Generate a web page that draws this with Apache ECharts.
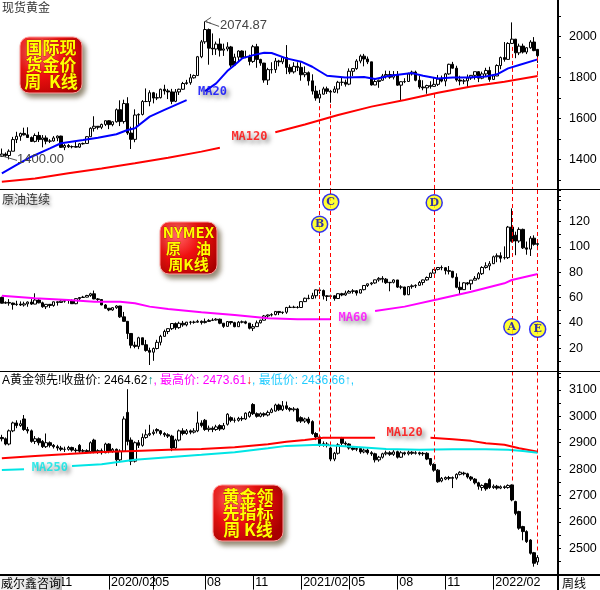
<!DOCTYPE html>
<html><head><meta charset="utf-8">
<script src="https://cdn.jsdelivr.net/npm/echarts@6/dist/echarts.min.js"></script>
<style>html,body{margin:0;padding:0;background:#fff}#c{width:600px;height:590px}</style>
</head><body><div id="c"></div><script>
// ---------------- DATA ----------------
const startWeek = '2019-07-15';
const totalSlots = 151;           // 146 weekly candles + empty slots at the right
const tickIdx  = [15, 29, 41, 55, 68, 81, 94, 107, 120, 133];
const tickText = ['11','2020/02','05','08','11','2021/02','05','08','11','2022/02'];

// 现货黄金 weekly [open, close, low, high]
const goldK = [
[1415,1426,1412,1453],[1426,1419,1412,1434],[1419,1440,1400,1449],[1440,1497,1440,1510],[1497,1513,1480,1535],
[1513,1527,1491,1531],[1527,1520,1517,1555],[1520,1507,1505,1557],[1507,1488,1485,1512],[1488,1517,1483,1527],
[1517,1497,1485,1535],[1497,1505,1459,1519],[1505,1489,1474,1517],[1489,1490,1480,1499],[1490,1505,1487,1514],
[1505,1514,1489,1517],[1514,1459,1456,1516],[1459,1468,1445,1475],[1468,1462,1456,1475],[1462,1463,1454,1468],
[1463,1460,1458,1485],[1460,1476,1456,1480],[1476,1478,1472,1482],[1478,1511,1477,1514],[1511,1552,1511,1557],
[1552,1562,1536,1611],[1562,1557,1546,1563],[1557,1571,1548,1575],[1571,1589,1563,1590],[1589,1570,1548,1592],
[1570,1584,1562,1586],[1584,1643,1580,1649],[1643,1585,1563,1689],[1585,1673,1575,1692],[1673,1529,1520,1704],
[1529,1498,1451,1560],[1498,1617,1484,1645],[1617,1620,1567,1625],[1620,1683,1615,1690],[1683,1683,1680,1747],
[1683,1726,1660,1738],[1726,1700,1674,1730],[1700,1702,1690,1723],[1702,1743,1698,1746],[1743,1735,1717,1765],
[1735,1730,1695,1745],[1730,1684,1670,1745],[1684,1730,1680,1744],[1730,1743,1715,1746],[1743,1771,1740,1779],
[1771,1775,1765,1789],[1775,1799,1765,1818],[1799,1810,1795,1815],[1810,1902,1810,1906],[1902,1975,1895,1984],
[1975,2035,1965,2074.87],[2035,1944,1863,2040],[1944,1940,1910,2016],[1940,1964,1911,1976],[1964,1934,1903,1992],
[1934,1940,1906,1966],[1940,1950,1929,1973],[1950,1861,1849,1955],[1861,1900,1881,1917],[1900,1930,1877,1933],
[1930,1899,1890,1933],[1899,1902,1895,1932],[1902,1879,1860,1912],[1879,1951,1872,1960],[1951,1889,1848,1965],
[1889,1871,1858,1892],[1871,1788,1775,1872],[1788,1839,1764,1848],[1839,1839,1820,1875],[1839,1881,1823,1896],
[1881,1877,1855,1887],[1877,1898,1866,1900],[1898,1850,1817,1959],[1850,1828,1817,1865],[1828,1855,1820,1875],
[1855,1850,1832,1875],[1850,1814,1785,1875],[1814,1824,1802,1855],[1824,1784,1761,1830],[1784,1734,1717,1816],
[1734,1700,1687,1760],[1700,1719,1676,1740],[1719,1745,1717,1755],[1745,1733,1720,1756],[1733,1729,1677,1740],
[1729,1744,1725,1758],[1744,1777,1723,1784],[1777,1777,1760,1798],[1777,1768,1756,1790],[1768,1831,1763,1845],
[1831,1844,1808,1846],[1844,1881,1838,1890],[1881,1905,1870,1913],[1905,1891,1855,1916],[1891,1877,1866,1903],
[1877,1764,1761,1877],[1764,1781,1763,1795],[1781,1787,1750,1790],[1787,1808,1785,1818],[1808,1815,1795,1834],
[1815,1802,1794,1833],[1802,1814,1791,1832],[1814,1763,1760,1832],[1763,1780,1687,1782],[1780,1781,1773,1797],
[1781,1818,1780,1824],[1818,1827,1810,1834],[1827,1787,1782,1834],[1787,1754,1745,1809],[1754,1750,1738,1787],
[1750,1761,1721,1765],[1761,1757,1746,1782],[1757,1767,1757,1800],[1767,1793,1759,1813],[1793,1783,1777,1810],
[1783,1818,1758,1823],[1818,1865,1814,1868],[1865,1846,1845,1877],[1846,1788,1780,1858],[1788,1783,1762,1809],
[1783,1784,1768,1793],[1784,1798,1753,1815],[1798,1811,1789,1812],[1811,1829,1790,1829],[1829,1797,1778,1831],
[1797,1818,1792,1829],[1818,1835,1806,1848],[1835,1791,1780,1853],[1791,1808,1788,1816],[1808,1859,1807,1865],
[1859,1898,1841,1903],[1898,1889,1878,1974],[1889,1967,1889,1973],[1967,1988,1966,2070],[1988,1921,1895,1989],
[1921,1954,1910,1966],[1954,1925,1918,1966],[1925,1946,1915,1949],[1946,1974,1941,1983],[1974,1932,1929,1998],
[1938,1907,1872,1940]
];
// 原油连续 weekly [open, close, low, high]
const crudeK = [
[60.2,55.6,55.4,60.7],[55.6,56.2,55.1,57.0],[56.2,55.7,53.6,58.8],[55.7,54.5,50.5,56.0],[54.5,54.9,53.5,57.5],
[54.9,54.2,53.4,57.0],[54.2,55.1,52.9,56.8],[55.1,56.5,52.8,57.0],[56.5,54.9,54.2,58.8],[54.9,58.1,54.8,63.4],
[58.1,55.9,55.5,58.8],[55.9,52.8,52.0,56.8],[52.8,54.7,51.0,54.9],[54.7,53.8,51.9,54.9],[53.8,56.7,52.8,56.9],
[56.7,56.2,53.7,56.9],[56.2,57.2,55.9,57.9],[57.2,57.7,56.0,58.0],[57.8,57.8,55.2,58.3],[57.8,55.2,55.0,58.6],
[55.2,59.2,54.8,59.4],[59.2,60.1,58.1,60.4],[60.1,60.4,59.8,61.4],[60.4,61.7,60.2,62.2],[61.7,63.05,60.6,63.8],
[63.05,59.0,58.7,65.6],[59.0,58.5,57.4,59.7],[58.5,54.2,54.0,58.8],[54.2,51.6,51.3,54.9],[51.6,50.3,49.3,51.8],
[50.3,52.05,49.6,52.5],[52.05,53.4,51.1,54.0],[53.4,44.8,44.0,53.5],[44.8,41.3,41.0,48.7],[41.3,31.7,27.3,41.5],
[31.7,22.4,20.0,31.9],[22.4,21.5,20.0,25.2],[21.5,28.3,19.3,29.1],[28.3,22.8,22.6,28.4],[22.8,18.3,17.3,26.6],
[18.3,16.9,6.8,20.5],[16.9,19.8,10.1,20.6],[19.8,24.7,19.1,26.7],[24.7,29.4,22.3,30.6],[29.4,33.25,29.3,34.7],
[33.25,35.5,31.2,35.7],[35.5,39.55,34.4,39.7],[39.55,36.3,34.6,40.4],[36.3,39.75,35.4,41.0],[39.75,38.5,37.0,41.6],
[38.5,40.65,37.3,40.8],[40.65,40.55,38.7,41.6],[40.55,40.6,39.4,41.8],[40.6,41.3,40.1,42.5],[41.3,40.3,38.7,42.0],
[40.3,41.2,39.6,43.5],[41.2,42.0,41.0,43.0],[42.0,42.3,41.5,43.7],[42.3,42.97,41.9,43.8],[42.97,39.8,39.0,43.4],
[39.8,37.3,36.1,39.9],[37.3,41.1,36.9,41.5],[41.1,40.25,38.7,41.1],[40.25,37.05,36.6,40.9],[37.05,40.6,37.0,41.5],
[40.6,40.9,39.7,41.9],[40.9,39.85,39.0,41.8],[39.85,35.8,34.9,39.9],[35.8,37.1,33.6,39.2],[37.1,40.1,36.9,41.9],
[40.1,42.15,39.6,42.5],[42.15,45.5,42.0,46.3],[45.5,46.3,43.9,46.7],[46.3,46.6,45.1,47.7],[46.6,49.1,46.0,49.4],
[49.1,48.2,46.2,49.3],[48.2,48.5,47.0,48.9],[48.5,52.2,47.2,52.7],[52.2,52.4,51.8,53.9],[52.4,52.3,51.7,53.6],
[52.3,52.2,51.4,53.4],[52.2,56.85,52.2,57.0],[56.85,59.5,56.5,60.0],[59.5,59.25,58.7,62.3],[59.25,61.5,59.2,63.8],
[61.5,66.1,59.3,66.4],[66.1,65.6,63.1,67.98],[65.6,61.4,58.5,66.4],[61.4,60.97,57.3,61.8],[60.97,61.45,58.9,62.3],
[61.45,59.3,57.6,61.9],[59.3,63.1,58.9,63.5],[63.1,62.1,61.1,63.8],[62.1,63.6,61.4,65.5],[63.6,64.9,63.5,66.0],
[64.9,65.4,63.1,66.7],[65.4,63.6,61.6,66.0],[63.6,66.3,63.3,66.7],[66.3,69.6,65.7,69.8],[69.6,70.9,68.4,71.0],
[70.9,71.6,69.8,72.2],[71.6,74.05,70.9,74.2],[74.05,75.2,72.6,76.2],[75.2,74.6,71.9,76.98],[74.6,71.8,70.8,75.5],
[71.8,72.1,65.0,72.3],[72.1,73.95,71.2,74.5],[73.95,68.3,67.6,73.8],[68.3,68.4,66.6,69.8],[68.4,62.3,61.7,68.5],
[62.3,68.7,62.0,69.0],[68.7,69.3,67.0,70.5],[69.3,69.7,67.6,70.5],[69.7,71.97,69.6,73.1],[71.97,73.98,69.8,74.3],
[73.98,75.9,73.3,76.7],[75.9,79.35,75.6,79.8],[79.35,82.3,79.2,82.5],[82.3,83.8,81.5,84.0],[83.8,83.6,81.6,85.4],
[83.6,81.3,78.3,84.0],[81.3,80.8,78.3,84.97],[80.8,76.1,75.3,81.1],[76.1,68.15,67.4,79.2],[68.15,66.3,62.4,72.6],
[66.3,71.7,66.1,72.2],[71.7,70.9,69.8,72.2],[70.9,73.8,66.1,73.9],[73.8,75.2,73.8,77.0],[75.2,78.9,74.3,80.2],
[78.9,83.8,77.9,84.8],[83.8,85.1,82.9,87.9],[85.1,86.8,81.6,88.8],[86.8,92.3,86.6,93.2],[92.3,93.1,88.0,94.9],
[93.1,91.1,87.8,95.8],[91.6,91.6,90.1,100.5],[91.6,115.7,90.5,116.6],[115.7,104.5,103.5,130.5],[109.3,104.7,93.5,112.1],
[104.7,113.9,103.3,115.5],[113.9,99.3,98.4,114.5],[99.3,98.3,93.9,104.3],[98.3,106.95,92.9,108.6],[106.95,102.1,101.0,109.2],
[102.1,102.6,97.5,105.9]
];
// 黄金领先指标 weekly [open, close, low, high]
const leadK = [
[2920,2915,2905,2930],[2915,2895,2890,2920],[2895,2945,2890,2950],[2945,2975,2940,2980],[2975,2965,2955,2985],
[2965,2972,2960,2985],[2990,2950,2945,3005],[2950,2945,2935,2960],[2945,2905,2900,2950],[2905,2915,2895,2925],
[2915,2900,2890,2920],[2905,2885,2880,2910],[2885,2900,2880,2935],[2900,2890,2882,2905],[2890,2885,2878,2895],
[2885,2880,2870,2892],[2880,2875,2868,2888],[2875,2875,2865,2885],[2875,2882,2870,2888],[2882,2872,2866,2885],
[2872,2870,2862,2880],[2890,2868,2862,2895],[2868,2870,2862,2876],[2870,2866,2860,2875],[2866,2900,2860,2905],
[2910,2865,2860,2915],[2865,2870,2858,2875],[2870,2862,2855,2878],[2862,2895,2860,2900],[2895,2868,2860,2898],
[2868,2875,2862,2880],[2875,2835,2812,2878],[2835,2868,2830,2875],[2868,2990,2865,3000],[3015,2905,2890,3103],
[2910,2830,2815,2920],[2830,2900,2825,2905],[2900,2890,2880,2910],[2890,2920,2885,2935],[2920,2930,2915,2950],
[2930,2935,2925,2968],[2935,2940,2928,2950],[2950,2945,2935,2955],[2945,2935,2928,2948],[2935,2930,2922,2940],
[2930,2925,2918,2936],[2925,2880,2868,2930],[2880,2910,2876,2915],[2910,2945,2905,2950],[2945,2935,2928,2955],
[2935,2945,2930,2952],[2945,2940,2932,2950],[2940,2945,2935,2955],[2945,2975,2940,3018],[2975,2965,2958,2985],
[2985,2950,2945,2990],[2950,2955,2942,2965],[2955,2950,2940,2962],[2950,2960,2945,2968],[2965,2952,2945,2970],
[2952,2965,2948,2975],[2970,3008,2965,3012],[2995,2985,2978,3000],[2985,2985,2976,2995],[2985,2992,2980,2998],
[2992,2990,2982,3000],[2990,3012,2986,3015],[3000,3015,2995,3020],[3045,3010,3005,3050],[3010,3000,2995,3015],
[3000,3010,2996,3015],[3010,3005,2998,3015],[3005,3015,3000,3022],[3015,3025,3012,3032],[3020,3043,3018,3048],
[3043,3025,3020,3048],[3025,3040,3020,3058],[3040,3030,3024,3056],[3030,3025,3018,3035],[3025,3028,3018,3035],
[3028,2982,2978,3032],[2995,2982,2975,3000],[2982,2990,2975,2995],[2990,2976,2970,2998],[2980,2935,2930,2985],
[2935,2922,2910,2940],[2922,2896,2885,2925],[2896,2890,2885,2905],[2890,2895,2882,2902],[2880,2838,2830,2885],
[2838,2860,2830,2865],[2860,2892,2855,2898],[2918,2898,2890,2922],[2898,2895,2888,2905],[2895,2880,2874,2898],
[2880,2875,2870,2885],[2875,2878,2868,2886],[2878,2865,2858,2882],[2865,2872,2860,2878],[2872,2862,2855,2878],
[2862,2858,2850,2868],[2858,2835,2825,2862],[2835,2845,2828,2850],[2845,2858,2840,2862],[2858,2862,2852,2870],
[2862,2856,2850,2868],[2856,2865,2850,2872],[2866,2845,2840,2870],[2845,2862,2842,2868],[2862,2858,2852,2866],
[2858,2864,2852,2870],[2864,2860,2854,2868],[2860,2862,2855,2868],[2862,2858,2852,2866],[2860,2858,2850,2865],
[2860,2838,2834,2864],[2840,2818,2812,2842],[2818,2796,2790,2822],[2796,2752,2748,2800],[2755,2765,2750,2770],
[2762,2768,2758,2772],[2768,2765,2758,2774],[2765,2768,2728,2772],[2766,2780,2760,2784],[2780,2788,2776,2792],
[2785,2782,2776,2790],[2782,2770,2764,2786],[2770,2762,2755,2774],[2762,2748,2742,2766],[2748,2735,2722,2752],
[2730,2738,2718,2742],[2745,2725,2718,2748],[2760,2730,2725,2765],[2730,2735,2725,2742],[2735,2728,2722,2740],
[2728,2733,2724,2738],[2733,2730,2725,2738],[2730,2738,2726,2742],[2740,2683,2678,2742],[2677,2632,2625,2680],
[2639,2576,2570,2642],[2582,2563,2530,2585],[2563,2525,2520,2568],[2531,2481,2476,2534],[2483,2443,2430,2486],
[2448,2464.62,2436.66,2473.61]
];

// moving averages: [weekIndex, value]; null = gap in the line
const goldMA20 = [[0,1332],[4,1373],[8,1413],[13,1454],[16,1479],[22,1495],[26,1506],[31,1523],[34,1544],[36,1552],[40,1609],[44,1642],[50,1690],
  null,[55,1734],[58,1772],[61,1832],[63,1862],[65,1894],[68,1910],[71,1922],[73,1920],[77,1894],[81,1878],[84,1853],[88,1809],[93,1800],[98,1803],
  [101,1793],[105,1809],[111,1822],[114,1809],[118,1796],[122,1801],[126,1801],[131,1805],[134,1816],[137,1845],[140,1862],[145,1889]];
const goldMA120 = [[0,1291],[9,1307],[18,1332],[27,1356],[36,1381],[45,1408],[54,1438],[59,1457],
  null,[74,1533],[82,1571],[91,1617],[100,1658],[109,1690],[118,1726],[127,1756],[136,1780],[145,1808]];
const crudeMA60 = [[0,61.5],[9,59.5],[18,58.1],[25,56.8],[32,56.8],[36,55.5],[40,52.9],[45,51.1],[54,48.4],[63,46.3],[72,43.7],[80,43.0],[89,42.9],
  null,[101,49.4],[109,52.9],[118,58.7],[127,64.7],[136,71.3],[138,73.9],[145,78.7]];
const leadMA120 = [[0,2841],[9,2850],[18,2857],[27,2865],[36,2869],[45,2873],[54,2876],[63,2883],[72,2894],[77,2904],[82,2910],[87,2919],[95,2919],[101,2919],
  null,[116,2919],[122,2913],[127,2907],[131,2898],[136,2892],[140,2879],[145,2866]];
const leadMA250 = [[0,2797],[6,2799],
  null,[19,2812],[27,2818],[36,2835],[45,2845],[54,2854],[63,2864],[72,2879],[77,2888],[86,2892],[95,2885],[104,2876],[113,2873],[122,2875],[131,2875],[137,2873],[141,2869],[145,2862]];

// marker weeks (A..E) and where their dashed lines start/stop in each panel
const markWeeks   = [86, 89, 117, 138, 145];
const markLetters = ['B','C','D','A','E'];
const markCircleY = [118, 135.5, 135, 37, 35];     // crude-panel value of the circled letter
const goldLineTop = [1660, 1670, 1720, 1950, 1900];
const leadLineEnd = [2922, 2892, 2823, 2745, 2486];

// line labels [panel, weekIndex, value, text, colour]
const maLabels = [
  [0, 57, 1728, 'MA20', '#0000ff'],
  [0, 67, 1508, 'MA120', '#ff0000'],
  [1, 95, 44, 'MA60', '#ff00ff'],
  [2, 13, 2804, 'MA250', '#00e5e5'],
  [2, 108.5, 2937, 'MA120', '#ff0000']
];

// ---------------- CHART ----------------
const cats = [];
{ const d0 = new Date(startWeek + 'T00:00:00Z');
  for (let i = 0; i < totalSlots; i++) { const d = new Date(d0.getTime() + i * 7 * 86400000); cats.push(d.toISOString().slice(0, 10)); } }
const tickMap = {}; tickIdx.forEach((k, i) => tickMap[k] = tickText[i]);

const FONT = 'Liberation Sans, "Noto Sans CJK SC", sans-serif';
const CJK = '"Noto Sans CJK SC", sans-serif';

function segments(arr) { const out = [[]]; arr.forEach(p => { if (p === null) out.push([]); else out[out.length - 1].push(p); }); return out.filter(s => s.length); }
function lineSeries(arr, gi, color) {
  return segments(arr).map(seg => ({ type: 'line', xAxisIndex: gi, yAxisIndex: gi, data: seg, symbol: 'none', silent: true, z: 4,
    lineStyle: { color, width: 2 }, animation: false }));
}
const dash = { color: '#ff0000', width: 1, type: [4, 3] };
function candle(data, gi, markData) {
  return { type: 'candlestick', xAxisIndex: gi, yAxisIndex: gi, data, barWidth: 3, silent: true, z: 3, animation: false,
    itemStyle: { color: '#ffffff', color0: '#000000', borderColor: '#000000', borderColor0: '#000000', borderWidth: 1 },
    markLine: { symbol: 'none', silent: true, animation: false, label: { show: false }, lineStyle: dash, data: markData } };
}
const goldMarks = markWeeks.map((k, i) => [{ coord: [k, goldLineTop[i]] }, { coord: [k, 1255] }]);
const crudeMarks = markWeeks.map(k => [{ coord: [k, 145] }, { coord: [k, 0] }]);
const leadMarks = markWeeks.map((k, i) => [{ coord: [k, 3170] }, { coord: [k, leadLineEnd[i]] }]);

function yAxis(gi, min, max, interval, show) {
  return { type: 'value', gridIndex: gi, position: 'right', min, max, interval, scale: true,
    axisLine: { show: true, lineStyle: { color: '#000', width: 2 } },
    axisTick: { show: true, length: 3, inside: false, lineStyle: { color: '#000' } },
    splitLine: { show: false },
    axisLabel: { margin: 11, color: '#000', fontSize: 12.5, fontFamily: FONT, formatter: v => show(v) ? String(v) : '' } };
}
function xAxis(gi, showLabels) {
  return { type: 'category', gridIndex: gi, data: cats, boundaryGap: true,
    axisLine: { show: showLabels, lineStyle: { color: '#000', width: 2 } },
    axisTick: { show: showLabels, alignWithLabel: true, length: 15, interval: i => tickMap[i] !== undefined, lineStyle: { color: '#000' } },
    axisLabel: { show: showLabels, interval: i => tickMap[i] !== undefined, formatter: (v, i) => tickMap[i] || '', align: 'left',
      padding: [0, 0, 0, 2], margin: 2, color: '#000', fontSize: 12.5, fontFamily: FONT, verticalAlign: 'top' },
    splitLine: { show: false } };
}

const labelSeries = [0, 1, 2].map(gi => ({ type: 'scatter', xAxisIndex: gi, yAxisIndex: gi, symbolSize: 0, silent: true, z: 6, animation: false,
  data: maLabels.filter(l => l[0] === gi).map(l => ({ value: [l[1], l[2]],
    label: { show: true, position: 'inside', formatter: l[3], color: l[4], fontSize: 12, fontWeight: 'bold', fontFamily: 'DejaVu Sans Mono, monospace',
      textShadowColor: 'rgba(0,0,0,0.55)', textShadowBlur: 4, textShadowOffsetX: 3, textShadowOffsetY: 3 } })) }));

const circleSeries = { type: 'scatter', xAxisIndex: 1, yAxisIndex: 1, symbol: 'circle', symbolSize: 16, silent: true, z: 7, animation: false,
  itemStyle: { color: '#ffff00', borderColor: '#0000ff', borderWidth: 1.5 },
  label: { show: true, position: 'inside', formatter: p => p.value[2], color: '#0000c0', fontSize: 11, fontWeight: 'bold', fontFamily: 'DejaVu Serif, serif' },
  data: markWeeks.map((k, i) => [k, markCircleY[i], markLetters[i]]) };

const chart = echarts.init(document.getElementById('c'), null, { renderer: 'canvas' });
const option = {
  animation: false,
  backgroundColor: '#ffffff',
  grid: [
    { left: 0, right: 42, top: -4.2, height: 204.5, containLabel: false, outerBoundsMode: 'none' },
    { left: 0, right: 42, top: 190, height: 183.6, containLabel: false, outerBoundsMode: 'none' },
    { left: 0, right: 42, top: 371.5, height: 203.1, containLabel: false, outerBoundsMode: 'none' }
  ],
  xAxis: [xAxis(0, false), xAxis(1, false), xAxis(2, true)],
  yAxis: [
    yAxis(0, 1200, 2200, 100, v => v % 200 === 0 && v >= 1400 && v <= 2000),
    yAxis(1, 0, 145, 10, v => v % 20 === 0 && v >= 20 && v <= 120),
    yAxis(2, 2400, 3170, 50, v => v % 100 === 0 && v >= 2500 && v <= 3100)
  ],
  series: [
    candle(goldK, 0, goldMarks),
    ...lineSeries(goldMA20, 0, '#0000ff'),
    ...lineSeries(goldMA120, 0, '#ff0000'),
    candle(crudeK, 1, crudeMarks),
    ...lineSeries(crudeMA60, 1, '#ff00ff'),
    candle(leadK, 2, leadMarks),
    ...lineSeries(leadMA120, 2, '#ff0000'),
    ...lineSeries(leadMA250, 2, '#00e5e5'),
    ...labelSeries,
    circleSeries
  ]
};
chart.setOption(option);

// ---------------- decorations ----------------
function button(x, y, w, h, lines, fs, lh, font) {
  const children = [{ type: 'rect', shape: { x, y, width: w, height: h, r: 9 },
    style: { fill: new echarts.graphic.RadialGradient(0.3, 0.25, 0.95, [{ offset: 0, color: '#ff6a6a' }, { offset: 0.45, color: '#f01010' }, { offset: 1, color: '#a80000' }]),
      stroke: '#ff9a9a', lineWidth: 1, shadowBlur: 5, shadowColor: 'rgba(60,40,0,0.55)', shadowOffsetX: 3, shadowOffsetY: 4 } }];
  lines.forEach((t, i) => children.push({ type: 'text', x: x + w / 2, y: y + h / 2 + (i - (lines.length - 1) / 2) * lh,
    style: { text: t, fill: '#ffff00', font: 'bold ' + fs + 'px ' + (font || CJK), align: 'center', verticalAlign: 'middle',
      stroke: '#900000', lineWidth: 0.6 } }));
  return { type: 'group', z: 20, children };
}
const g = [];
// frame lines
g.push({ type: 'line', z: 10, shape: { x1: 0, y1: 189.5, x2: 600, y2: 189.5 }, style: { stroke: '#000', lineWidth: 1 } });
g.push({ type: 'line', z: 10, shape: { x1: 0, y1: 371.5, x2: 600, y2: 371.5 }, style: { stroke: '#000', lineWidth: 1 } });
g.push({ type: 'line', z: 10, shape: { x1: 0, y1: 575, x2: 600, y2: 575 }, style: { stroke: '#000', lineWidth: 2 } });
g.push({ type: 'line', z: 10, shape: { x1: 558, y1: 0, x2: 558, y2: 590 }, style: { stroke: '#000', lineWidth: 2 } });
// titles
g.push({ type: 'text', z: 10, x: 2, y: 1, style: { text: '现货黄金', font: '12px ' + CJK, fill: '#333' } });
g.push({ type: 'text', z: 10, x: 2, y: 193, style: { text: '原油连续', font: '12px ' + CJK, fill: '#333', textShadowColor: 'rgba(0,0,0,0.35)', textShadowBlur: 3, textShadowOffsetX: 2, textShadowOffsetY: 2 } });
g.push({ type: 'text', z: 10, x: 2, y: 375, style: {
  text: '{a|A黄金领先!收盘价: 2464.62}{b|↑}{c|, 最高价: 2473.61}{d|↓}{e|, 最低价: 2436.66↑,}',
  font: '12px ' + FONT,
  rich: { a: { fill: '#000', font: '12px ' + FONT }, b: { fill: '#008b8b', font: '12px ' + FONT }, c: { fill: '#ff00ff', font: '12px ' + FONT },
          d: { fill: '#ff0000', font: '12px ' + FONT }, e: { fill: '#22ccff', font: '12px ' + FONT } } } });
// bottom strip
g.push({ type: 'rect', z: 12, shape: { x: 0, y: 576, width: 62, height: 14 },
  style: { fill: new echarts.graphic.LinearGradient(0, 0, 1, 0, [{ offset: 0, color: '#f4f4f4' }, { offset: 0.7, color: '#e6e6e6' }, { offset: 1, color: '#bdbdbd' }]) } });
g.push({ type: 'text', z: 13, x: 1, y: 577, style: { text: '威尔鑫咨询', font: '12px ' + CJK, fill: '#000' } });
g.push({ type: 'text', z: 13, x: 562, y: 577, style: { text: '周线', font: '12px ' + CJK, fill: '#000' } });
// buttons
g.push(button(20, 37, 62, 56, ['国际现', '货金价', '周  K线'], 17, 17));
g.push(button(160, 222, 57, 52, ['NYMEX', '原　油', '周K线'], 15, 16));
g.push(button(213, 485, 70, 56, ['黄金领', '先指标', '周 K线'], 17, 16.5));
// extreme value notes
const pk = chart.convertToPixel({ xAxisIndex: 0, yAxisIndex: 0 }, [55, 2074.87]);
g.push({ type: 'polyline', z: 9, shape: { points: [[pk[0] + 6, pk[1] - 4], [pk[0], pk[1]], [pk[0] + 6, pk[1] + 2]] }, style: { stroke: '#555', lineWidth: 1, fill: null } });
g.push({ type: 'line', z: 9, shape: { x1: pk[0], y1: pk[1], x2: pk[0] + 14, y2: pk[1] + 5 }, style: { stroke: '#555', lineWidth: 1 } });
g.push({ type: 'text', z: 9, x: pk[0] + 15, y: pk[1] - 2, style: { text: '2074.87', font: '13px ' + FONT, fill: '#444' } });
const lo = chart.convertToPixel({ xAxisIndex: 0, yAxisIndex: 0 }, [2, 1400]);
g.push({ type: 'line', z: 9, shape: { x1: 0, y1: lo[1] - 4, x2: 17, y2: lo[1] + 1 }, style: { stroke: '#555', lineWidth: 1 } });
g.push({ type: 'text', z: 9, x: 17, y: lo[1] - 6, style: { text: '1400.00', font: '13px ' + FONT, fill: '#444' } });
chart.setOption({ graphic: g });
</script></body></html>
